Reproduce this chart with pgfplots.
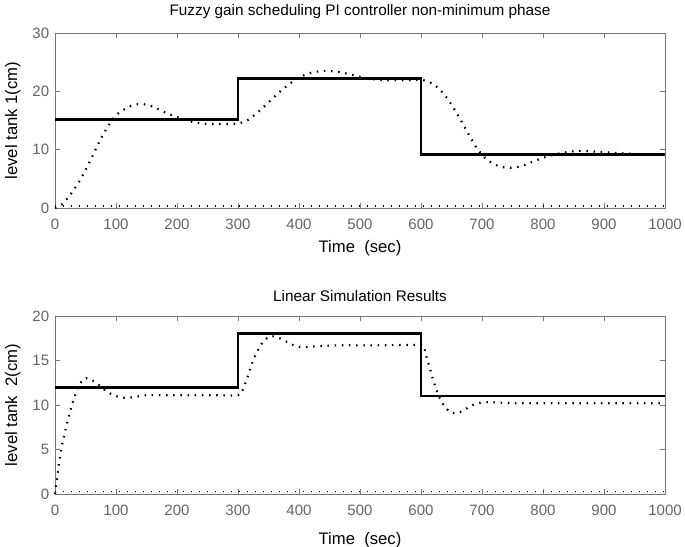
\documentclass[border=0pt]{standalone}
\usepackage{pgfplots}
\pgfplotsset{compat=1.18}
\usepackage{fontspec}
\setmainfont{Liberation Sans}
\definecolor{framegray}{RGB}{120,120,120}
\definecolor{labgray}{RGB}{100,100,100}
\pgfplotsset{
  mystyle/.style={
    scale only axis, width=366pt,
    xmin=0, xmax=1000,
    xtick={0,100,...,1000},
    axis line style={framegray, line width=0.6pt},
    tick style={framegray, line width=0.5pt},
    major tick length=3pt,
    tick align=inside,
    xtick pos=both, ytick pos=both,
    ticklabel style={font=\fontsize{9}{10}\selectfont, text=labgray},
    xticklabel style={yshift=-3pt},
    /pgf/number format/assume math mode=true,
    /pgf/number format/1000 sep={},
    xlabel={Time\ \ (sec)},
    label style={font=\fontsize{10}{11}\selectfont},
    ylabel style={at={(axis description cs:-0.069,0.5)}, anchor=center},
    title style={font=\fontsize{9.2}{10}\selectfont, yshift=-1pt},
    clip=false,
  },
  refline/.style={black, line width=1.6pt},
  respline/.style={black, line width=1.3pt, dash pattern=on 0.9pt off 3.4pt},
  zeroline/.style={black, line width=1.0pt, dash pattern=on 0.8pt off 4pt},
}
\begin{document}
\begin{tikzpicture}
\useasboundingbox (0,0) rectangle (411pt,327.6pt);
\begin{axis}[mystyle, at={(33pt,202.8pt)}, anchor=south west, height=105pt,
  ymin=0, ymax=30, ytick={0,10,20,30},
  ylabel={level tank 1(cm)},
  xlabel style={at={(axis description cs:0.5,0)}, anchor=center, yshift=-24pt},
  title={Fuzzy gain scheduling PI controller non-minimum phase}]
\addplot[zeroline] coordinates {(0,0.4) (1000,0.4)};
\addplot[refline] coordinates {(0,15.2) (300,15.2) (300,22.2) (600,22.2) (600,9.2) (1000,9.2)};
\addplot[respline, smooth] coordinates {
(0,0) (10,0.5) (20,1.6) (30,3.0) (40,4.6) (50,6.5) (60,8.6) (70,10.8) (80,12.8) (90,14.5) (100,15.9)
(115,17.0) (130,17.7) (145,17.8) (160,17.4) (180,16.4) (200,15.6) (220,14.9) (240,14.5) (260,14.4) (280,14.4) (300,14.5)
(315,15.0) (330,16.2) (345,17.6) (360,19.1) (375,20.5) (390,21.7) (405,22.6) (420,23.2) (440,23.5) (460,23.4) (480,23.0) (500,22.5) (520,22.1) (540,21.9) (560,21.9) (580,21.9) (600,22.0)
(615,21.5) (630,20.4) (645,18.5) (660,16.0) (675,13.2) (690,10.5) (705,8.6) (720,7.5) (735,7.0) (750,6.9) (765,7.2) (780,7.8) (800,8.6) (820,9.2) (840,9.6) (860,9.8) (880,9.7) (900,9.6) (925,9.4) (950,9.3) (975,9.2) (1000,9.2)};
\end{axis}
\begin{axis}[mystyle, at={(33pt,31.2pt)}, anchor=south west, height=106.8pt,
  ymin=0, ymax=20, ytick={0,5,10,15,20},
  ylabel={level tank\ \ 2(cm)},
  xlabel style={at={(axis description cs:0.5,0)}, anchor=center, yshift=-27.6pt},
  title={Linear Simulation Results}]
\addplot[zeroline] coordinates {(0,0.27) (1000,0.27)};
\addplot[refline] coordinates {(0,12) (300,12) (300,18) (600,18) (600,11) (1000,11)};
\addplot[respline, smooth] coordinates {
(0,0) (3,1.5) (6,3.2) (10,5.0) (15,6.6) (20,8.0) (25,9.3) (30,10.5) (35,11.5) (40,12.3) (47,12.9) (55,13.0) (65,12.6) (75,12.1) (85,11.5) (100,11.0) (115,10.8) (130,10.9) (150,11.1) (180,11.1) (220,11.1) (260,11.1) (300,11.1)
(307,11.6) (315,13.0) (322,14.5) (330,15.8) (340,17.0) (352,17.7) (365,17.6) (380,17.1) (395,16.6) (410,16.5) (430,16.6) (460,16.7) (520,16.7) (600,16.7)
(606,16.0) (613,14.5) (620,12.8) (628,11.2) (637,10.0) (648,9.2) (660,9.1) (672,9.5) (685,10.0) (700,10.3) (720,10.3) (760,10.2) (850,10.2) (1000,10.2)};
\end{axis}
\end{tikzpicture}
\end{document}
